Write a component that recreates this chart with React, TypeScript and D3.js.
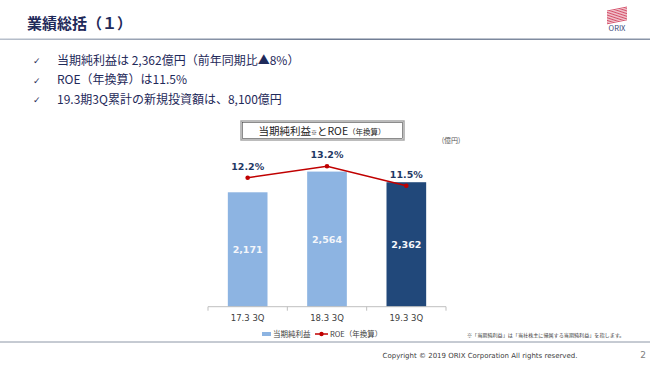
import React from "react";
import * as d3 from "d3";

// chart data
const periods = ["17.3 3Q", "18.3 3Q", "19.3 3Q"];
const netIncome = [2171, 2564, 2362];
const roe = [12.2, 13.2, 11.5];
const bullets = [
  "当期純利益は 2,362億円（前年同期比▲8%）",
  "ROE（年換算）は11.5%",
  "19.3期3Q累計の新規投資額は、8,100億円",
];

const W = 650;
const H = 366;
const navy = "#1F2A5A";
const lightBar = "#8DB4E2";
const darkBar = "#21487A";
const red = "#C00000";
const jp = "'Noto Sans CJK JP', sans-serif";
const num = "'DejaVu Sans', 'Noto Sans CJK JP', sans-serif";

export default function App() {
  const x = d3
    .scaleBand<string>()
    .domain(periods)
    .range([208, 446])
    .paddingInner(0.5)
    .paddingOuter(0.25);
  const y = d3.scaleLinear().domain([0, 3000]).range([306.7, 148.6]);
  const y2 = d3.scaleLinear().domain([0, 14]).range([318, 157]);
  const cx = (d: string) => (x(d) as number) + x.bandwidth() / 2;

  const line = d3
    .line<number>()
    .x((_, i) => cx(periods[i]))
    .y((d) => y2(d));

  const step = x.step();
  const ticks = [cx(periods[0]) - step / 2, ...periods.map((p) => cx(p) + step / 2)];
  const base = y(0);

  // logo stripes
  const stripes = d3.range(9);

  return (
    <svg
      width={W}
      height={H}
      style={{ position: "absolute", left: 0, top: 0, background: "#fff" }}
    >
      <defs>
        <linearGradient id="hdr" x1="0" x2="1" y1="0" y2="0">
          <stop offset="0" stopColor="#b8c0cc" />
          <stop offset="0.5" stopColor="#6d7a92" />
          <stop offset="1" stopColor="#8a95a8" />
        </linearGradient>
      </defs>

      {/* header */}
      <text x={27} y={29} fontFamily={jp} fontWeight={700} fontSize={15} fill={navy}>
        業績総括（１）
      </text>
      <rect x={0} y={38.5} width={W} height={1.5} fill="url(#hdr)" />
      <g>
        {stripes.map((i) => (
          <line
            key={i}
            x1={607}
            x2={627}
            y1={11 + i * 1.6}
            y2={7 + i * 1.6}
            stroke="#D0415C"
            strokeWidth={0.9}
          />
        ))}
        <text x={617} y={31} textAnchor="middle" fontFamily={jp} fontSize={7.5} fill="#3a4a78">
          ORIX
        </text>
      </g>

      {/* bullets */}
      {bullets.map((b, i) => (
        <g key={i}>
          <text x={33} y={64 + i * 19.5} fontFamily={num} fontSize={9} fill={navy}>
            ✓
          </text>
          <text x={57} y={64.5 + i * 19.5} fontFamily={jp} fontSize={12} fill={navy}>
            {b}
          </text>
        </g>
      ))}

      {/* chart title */}
      <rect x={241} y={121} width={163} height={19} fill="#fff" stroke="#a6a6a6" strokeWidth={1.5} />
      <rect x={242.5} y={122.5} width={160} height={16} fill="none" stroke="#404040" strokeWidth={0.6} />
      <text x={322} y={134.5} textAnchor="middle" fontFamily={jp} fontSize={10.5} fill="#222">
        当期純利益<tspan fontSize={6}>※</tspan>とROE<tspan fontSize={7.5}>（年換算）</tspan>
      </text>
      <text x={451} y={143} textAnchor="middle" fontFamily={jp} fontSize={7} fill="#595959">
        (億円)
      </text>

      {/* bars */}
      {periods.map((p, i) => (
        <g key={p}>
          <rect
            x={x(p)}
            y={y(netIncome[i])}
            width={x.bandwidth()}
            height={base - y(netIncome[i])}
            fill={i === 2 ? darkBar : lightBar}
          />
          <text
            x={cx(p)}
            y={(y(netIncome[i]) + base) / 2 + 3.5}
            textAnchor="middle"
            fontFamily={num}
            fontWeight={700}
            fontSize={9.5}
            fill="#F4F6FA"
          >
            {d3.format(",")(netIncome[i])}
          </text>
          <text
            x={cx(p)}
            y={320.5}
            textAnchor="middle"
            fontFamily={num}
            fontSize={8.5}
            fill="#404040"
          >
            {p}
          </text>
        </g>
      ))}

      {/* axis */}
      <line x1={ticks[0]} x2={ticks[ticks.length - 1]} y1={base} y2={base} stroke="#BFBFBF" />
      {ticks.map((t, i) => (
        <line key={i} x1={t} x2={t} y1={base} y2={base + 4} stroke="#BFBFBF" />
      ))}

      {/* ROE line */}
      <path d={line(roe) || ""} fill="none" stroke={red} strokeWidth={1.5} />
      {roe.map((v, i) => (
        <g key={i}>
          <circle cx={cx(periods[i])} cy={y2(v)} r={2.3} fill={red} />
          <text
            x={cx(periods[i])}
            y={y2(v) - 8}
            textAnchor="middle"
            fontFamily={num}
            fontWeight={700}
            fontSize={9.5}
            fill="#1F3864"
          >
            {v.toFixed(1)}%
          </text>
        </g>
      ))}

      {/* legend */}
      <rect x={262} y={332} width={9} height={4} fill={lightBar} />
      <text x={273} y={337} fontFamily={jp} fontSize={7.5} fill="#404040">
        当期純利益
      </text>
      <line x1={315} x2={328} y1={334} y2={334} stroke={red} strokeWidth={1.5} />
      <circle cx={321.5} cy={334} r={2.2} fill={red} />
      <text x={330} y={337} fontFamily={jp} fontSize={7.5} fill="#404040">
        ROE（年換算）
      </text>
      <text x={467} y={337} fontFamily={jp} fontSize={5.1} fill="#404040">
        ※「当期純利益」は「当社株主に帰属する当期純利益」を指します。
      </text>

      {/* footer */}
      <line x1={0} x2={W} y1={342} y2={342} stroke="#8c96a6" strokeWidth={1} />
      <text x={480} y={357.5} textAnchor="middle" fontFamily={num} fontSize={7} fill="#404040">
        Copyright © 2019 ORIX Corporation  All rights reserved.
      </text>
      <text x={643} y={358} textAnchor="middle" fontFamily={num} fontSize={9} fill="#808080">
        2
      </text>
    </svg>
  );
}
